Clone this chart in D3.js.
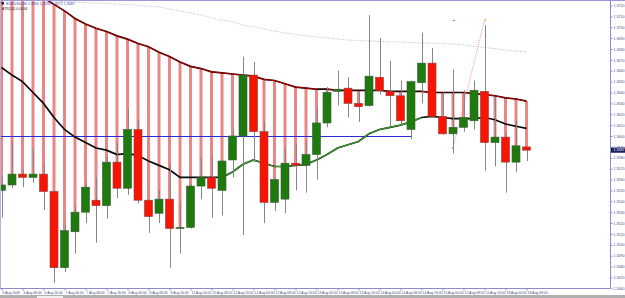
<!DOCTYPE html>
<html><head><meta charset="utf-8">
<script src="https://cdn.jsdelivr.net/npm/d3@7/dist/d3.min.js"></script>
<style>html,body{margin:0;padding:0;background:#fff;overflow:hidden}svg{display:block}</style>
</head><body><svg id="c" width="625" height="298"></svg>
<script>
const opens=[1.3550,1.3555,1.3565,1.3562,1.3565,1.3549,1.3479,1.3512,1.3530,1.3541,1.3536,1.3576,1.3552,1.3606,1.3541,1.3529,1.3542,1.3515,1.3516,1.3554,1.3562,1.3550,1.3578,1.3600,1.3656,1.3604,1.3539,1.3542,1.3575,1.3573,1.3583,1.3612,1.3641,1.3644,1.3630,1.3628,1.3654,1.3641,1.3637,1.3606,1.3649,1.3667,1.3618,1.3602,1.3608,1.3614,1.3641,1.3594,1.3599,1.3576,1.3590];
const highs=[1.3562,1.3596,1.3569,1.3588,1.3575,1.3550,1.3518,1.3535,1.3557,1.3562,1.3581,1.3594,1.3625,1.3615,1.3542,1.3550,1.3575,1.3539,1.3556,1.3580,1.3581,1.3578,1.3605,1.3673,1.3668,1.3613,1.3561,1.3590,1.3593,1.3596,1.3627,1.3645,1.3660,1.3654,1.3640,1.3711,1.3690,1.3669,1.3651,1.3651,1.3695,1.3681,1.3640,1.3661,1.3642,1.3651,1.3702,1.3636,1.3603,1.3614,1.3590];
const lows=[1.3525,1.3552,1.3553,1.3557,1.3532,1.3465,1.3475,1.3492,1.3520,1.3502,1.3524,1.3543,1.3546,1.3538,1.3511,1.3520,1.3479,1.3492,1.3515,1.3542,1.3525,1.3527,1.3562,1.3509,1.3576,1.3520,1.3531,1.3529,1.3550,1.3548,1.3560,1.3608,1.3628,1.3617,1.3613,1.3627,1.3638,1.3608,1.3610,1.3597,1.3630,1.3617,1.3601,1.3584,1.3604,1.3606,1.3568,1.3572,1.3548,1.3567,1.3577];
const closes=[1.3555,1.3565,1.3562,1.3565,1.3549,1.3479,1.3513,1.3530,1.3553,1.3536,1.3576,1.3552,1.3606,1.3541,1.3526,1.3542,1.3515,1.3516,1.3554,1.3562,1.3552,1.3577,1.3600,1.3656,1.3604,1.3539,1.3560,1.3575,1.3573,1.3583,1.3612,1.3640,1.3643,1.3630,1.3627,1.3655,1.3642,1.3637,1.3614,1.3650,1.3667,1.3618,1.3602,1.3608,1.3617,1.3642,1.3594,1.3599,1.3576,1.3591,1.3587];
const upperMA=[1.3748,1.3743,1.3738,1.3732,1.3727,1.3721,1.3715,1.3708,1.3703,1.3699,1.3696,1.3692,1.3689,1.3685,1.3682,1.3677,1.3673,1.3668,1.3664,1.3662,1.3659,1.3658,1.3657,1.3656,1.3655,1.3652,1.3651,1.3648,1.3645,1.3644,1.3643,1.3643,1.3642,1.3642,1.3642,1.3642,1.3642,1.3641,1.3641,1.3641,1.3641,1.3640,1.3640,1.3640,1.3640,1.3639,1.3638,1.3637,1.3635,1.3634,1.3632];
const lowerMA=[1.3663,1.3656,1.3650,1.3640,1.3630,1.3617,1.3606,1.3599,1.3594,1.3589,1.3587,1.3583,1.3584,1.3582,1.3577,1.3573,1.3569,1.3562,1.3562,1.3562,1.3562,1.3562,1.3567,1.3574,1.3578,1.3575,1.3572,1.3572,1.3573,1.3574,1.3578,1.3583,1.3589,1.3592,1.3595,1.3602,1.3606,1.3608,1.3610,1.3613,1.3617,1.3618,1.3617,1.3616,1.3616,1.3616,1.3617,1.3615,1.3611,1.3609,1.3607];
const slowMA=[1.37268,1.37264,1.37259,1.37250,1.37245,1.37241,1.37234,1.37232,1.37227,1.37222,1.37218,1.37213,1.37209,1.37199,1.37195,1.37186,1.37167,1.37149,1.37131,1.37112,1.37085,1.37066,1.37048,1.37020,1.37002,1.36983,1.36965,1.36947,1.36933,1.36924,1.36910,1.36901,1.36892,1.36882,1.36878,1.36873,1.36869,1.36864,1.36864,1.36859,1.36855,1.36855,1.36850,1.36846,1.36836,1.36823,1.36813,1.36804,1.36790,1.36781,1.36772];
const risingFrom=21, risingTo=40;
const hLinePrice=1.3600, hLineEndBar=39;
const trendBars=[43,46], trendPrices=[1.3589,1.37066];
const priceTicks=[1.3720,1.3710,1.3700,1.3690,1.3680,1.3670,1.3660,1.3650,1.3640,1.3630,1.3620,1.3610,1.3600,1.3590,1.3580,1.3570,1.3560,1.3550,1.3540,1.3530,1.3520,1.3510,1.3500,1.3490,1.3480,1.3470,1.3460];
const timeLabels=["6 Aug 2008","6 Aug 08:00","6 Aug 16:00","7 Aug 00:00","7 Aug 08:00","7 Aug 16:00","8 Aug 00:00","8 Aug 08:00","8 Aug 16:00","11 Aug 00:00","11 Aug 08:00","11 Aug 16:00","12 Aug 00:00","12 Aug 08:00","12 Aug 16:00","13 Aug 00:00","13 Aug 08:00","13 Aug 16:00","14 Aug 00:00","14 Aug 08:00","14 Aug 16:00","15 Aug 00:00","15 Aug 08:00","15 Aug 16:00","18 Aug 00:00","18 Aug 08:00"];
const symbolTitle="EURUSD,H4";
const indicatorTitle="ATR(14) 0.0034";

const svg=d3.select("#c");
const W=625,H=298,plotR=610,plotB=288;
const x=d3.scaleLinear().domain([0,50]).range([1.5,526.5]);
const y=d3.scaleLinear().domain([1.3725,1.34594]).range([0,289]);
const n=closes.length;

svg.append("defs").append("clipPath").attr("id","pc").append("rect").attr("x",1).attr("y",1).attr("width",plotR-1).attr("height",plotB-1);
const g=svg.append("g").attr("clip-path","url(#pc)");

g.selectAll("rect.pk").data(d3.range(n).filter(i=>y(Math.max(opens[i],closes[i]))>y(upperMA[i])))
 .join("rect").attr("class","pk")
 .attr("x",i=>x(i)-1.5).attr("width",3)
 .attr("y",i=>y(upperMA[i])).attr("height",i=>y(Math.max(opens[i],closes[i]))-y(upperMA[i]))
 .attr("fill","#eb8686");

g.append("path").datum(slowMA).attr("fill","none").attr("stroke","#a8a8a8").attr("stroke-width",0.8)
 .attr("stroke-dasharray","1,1.5").attr("d",d3.line().x((d,i)=>x(i)).y(d=>y(d)));

g.append("line").attr("x1",1).attr("x2",x(hLineEndBar)).attr("y1",Math.round(y(hLinePrice))+0.5).attr("y2",Math.round(y(hLinePrice))+0.5)
 .attr("stroke","#2a2ad8").attr("stroke-width",1);

const ln=d3.line().x(d=>x(d[0])).y(d=>y(d[1]));
g.append("path").datum(upperMA.map((v,i)=>[i,v])).attr("fill","none").attr("stroke","#2a0202").attr("stroke-width",1.7).attr("d",ln);
for(let i=0;i<n-1;i++){ if(upperMA[i+1]<upperMA[i]-0.00005){
 g.append("path").datum([[i,upperMA[i]],[i+1,upperMA[i+1]]]).attr("fill","none").attr("stroke","#b80000").attr("stroke-width",0.9).attr("d",ln);}}
g.append("path").datum(lowerMA.map((v,i)=>[i,v])).attr("fill","none").attr("stroke","#0a0a0a").attr("stroke-width",1.7).attr("d",ln);
g.append("path").datum(lowerMA.map((v,i)=>[i,v]).slice(risingFrom,risingTo+1)).attr("fill","none").attr("stroke","#3aa82a").attr("stroke-width",1.1).attr("d",ln);

g.append("path").datum(trendBars.map((b,k)=>[b,trendPrices[k]])).attr("fill","none").attr("stroke","#f07878").attr("stroke-width",0.8).attr("stroke-dasharray","1,1").attr("d",ln);
g.append("rect").attr("x",x(trendBars[0])-0.5).attr("y",y(trendPrices[0])-0.5).attr("width",1.5).attr("height",1.5).attr("fill","#e03030");
g.append("rect").attr("x",x(trendBars[0])).attr("y",y(trendPrices[1])).attr("width",2).attr("height",1).attr("fill","#e05050");
g.append("rect").attr("x",x(trendBars[1])).attr("y",y(trendPrices[1])-1).attr("width",1.5).attr("height",1.5).attr("fill","#f0a020");

g.selectAll("line.wk").data(d3.range(n)).join("line").attr("class","wk")
 .attr("x1",i=>Math.round(x(i))+0.5).attr("x2",i=>Math.round(x(i))+0.5)
 .attr("y1",i=>y(highs[i])).attr("y2",i=>y(lows[i])).attr("stroke","#868686").attr("stroke-width",1);
g.selectAll("rect.bd").data(d3.range(n)).join("rect").attr("class","bd")
 .attr("x",i=>x(i)-4).attr("width",8)
 .attr("y",i=>y(Math.max(opens[i],closes[i])))
 .attr("height",i=>Math.max(1,y(Math.min(opens[i],closes[i]))-y(Math.max(opens[i],closes[i]))))
 .attr("fill",i=>closes[i]>=opens[i]?"#1f7a0e":"#f81400")
 .attr("stroke",i=>closes[i]>=opens[i]?"#3a5a3a":"#8a4040").attr("stroke-width",0.6);

svg.append("line").attr("x1",0).attr("x2",W).attr("y1",0.5).attr("y2",0.5).attr("stroke","#9a9ad8");
svg.append("line").attr("x1",0.5).attr("x2",0.5).attr("y1",0).attr("y2",plotB).attr("stroke","#b4b4dc");

const ya=svg.append("g").attr("transform",`translate(${plotR+0.5},0)`).call(d3.axisRight(y).tickValues(priceTicks).tickSize(2).tickPadding(1).tickFormat(d3.format(".4f")));
ya.select(".domain").attr("stroke","#8c8cc8").attr("d",`M0,0V${plotB}`);
ya.selectAll(".tick line").attr("stroke","#8c8cc8");
ya.selectAll("text").attr("font-size","3.6px").attr("font-family","Liberation Sans, Arial").attr("fill","#4a4a8a");

const last=closes[n-1];
svg.append("rect").attr("x",plotR+1).attr("y",y(last)-2.6).attr("width",14).attr("height",5.2).attr("fill","#1c2060");
svg.append("text").attr("x",plotR+3.5).attr("y",y(last)+1.3).attr("font-size","3.6px").attr("font-family","Liberation Sans, Arial").attr("fill","#fff").text(d3.format(".4f")(last));

const labelBars=timeLabels.map((t,k)=>k*2);
const xa=svg.append("g").attr("transform",`translate(0,${plotB+0.5})`).call(d3.axisBottom(x).tickValues(labelBars).tickSize(2).tickPadding(1).tickFormat((d,k)=>timeLabels[k]));
xa.select(".domain").attr("stroke","#8c8cc8").attr("d",`M0,0H${plotR+0.5}`);
xa.selectAll(".tick line").attr("stroke","#8c8cc8");
xa.selectAll("text").attr("text-anchor","start").attr("dx","0.6").attr("font-size","3.4px").attr("font-family","Liberation Sans, Arial").attr("fill","#4a4a8a");

svg.append("rect").attr("x",0).attr("y",295).attr("width",W).attr("height",3).attr("fill","#b0b0b0");
svg.append("rect").attr("x",37).attr("y",296).attr("width",26).attr("height",2).attr("fill","#f0f0f0");

const fmt=d3.format(".4f");
svg.append("rect").attr("x",1.5).attr("y",2).attr("width",2.5).attr("height",2.5).attr("fill","#202020");
svg.append("text").attr("x",6).attr("y",5).attr("font-size","3.6px").attr("font-family","Liberation Sans, Arial").attr("fill","#3a3aa0")
 .text(`${symbolTitle} ${fmt(opens[n-1])} ${fmt(highs[n-1])} ${fmt(lows[n-1])} ${fmt(closes[n-1])}`);
svg.append("text").attr("x",2).attr("y",9.8).attr("font-size","3.6px").attr("font-family","Liberation Sans, Arial").attr("fill","#202020").text(indicatorTitle);
</script></body></html>
